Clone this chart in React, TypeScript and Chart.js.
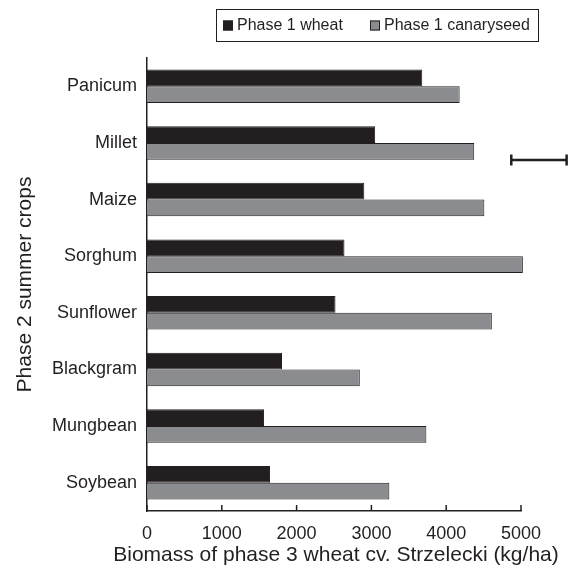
import { useEffect, useRef } from 'react';
import { Chart, registerables } from 'chart.js';

Chart.register(...registerables);

// Phase 2 summer crops (top to bottom)
const crops = ['Panicum', 'Millet', 'Maize', 'Sorghum', 'Sunflower', 'Blackgram', 'Mungbean', 'Soybean'];
// Biomass of phase 3 wheat (kg/ha) after each phase 1 crop
const afterWheat = [3680, 3050, 2905, 2640, 2520, 1805, 1565, 1645];
const afterCanaryseed = [4180, 4375, 4510, 5025, 4610, 2845, 3735, 3240];
const seriesNames = ['Phase 1 wheat', 'Phase 1 canaryseed'];
const xTickValues = [0, 1000, 2000, 3000, 4000, 5000];
const xTitle = 'Biomass of phase 3 wheat cv. Strzelecki (kg/ha)';
const yTitle = 'Phase 2 summer crops';
// Least significant difference bar (kg/ha)
const lsdStart = 4870;
const lsdValue = 740;

const INK = '#231f20';
const GREY = '#8b8c8f';
const FONT = "'Liberation Sans', Arial, Helvetica, sans-serif";

const inwardTicks = {
  id: 'inwardTicks',
  afterDraw(chart: any) {
    const { ctx, chartArea, scales } = chart;
    const x = scales.x;
    ctx.save();
    ctx.strokeStyle = INK;
    ctx.lineWidth = 1.5;
    x.ticks.forEach((t: any) => {
      const px = x.getPixelForValue(t.value);
      ctx.beginPath();
      ctx.moveTo(px, chartArea.bottom);
      ctx.lineTo(px, chartArea.bottom - 6);
      ctx.stroke();
    });
    ctx.restore();
  },
};

// Wide x-axis title, allowed to run past the plot edges
const wideXTitle = {
  id: 'wideXTitle',
  afterDraw(chart: any) {
    const { ctx, chartArea } = chart;
    ctx.save();
    ctx.font = `21px ${FONT}`;
    ctx.fillStyle = INK;
    ctx.textAlign = 'center';
    ctx.textBaseline = 'middle';
    ctx.fillText(xTitle, (chartArea.left + chartArea.right) / 2 + 2, 555);
    ctx.restore();
  },
};

const lsdBar = {
  id: 'lsdBar',
  afterDraw(chart: any) {
    const { ctx, scales } = chart;
    const x0 = scales.x.getPixelForValue(lsdStart);
    const x1 = scales.x.getPixelForValue(lsdStart + lsdValue);
    const y = scales.y.getPixelForValue(1.3);
    ctx.save();
    ctx.strokeStyle = INK;
    ctx.lineWidth = 2.5;
    ctx.beginPath();
    ctx.moveTo(x0, y);
    ctx.lineTo(x1, y);
    ctx.stroke();
    ctx.beginPath();
    ctx.moveTo(x0, y - 5.5);
    ctx.lineTo(x0, y + 5.5);
    ctx.moveTo(x1, y - 5.5);
    ctx.lineTo(x1, y + 5.5);
    ctx.stroke();
    ctx.restore();
  },
};

const boxedLegend = {
  id: 'boxedLegend',
  afterDraw(chart: any) {
    const { ctx } = chart;
    const ds = chart.data.datasets;
    const left = 216.5;
    const top = 9.5;
    const width = 322;
    const height = 32;
    const midY = top + height / 2;
    ctx.save();
    ctx.strokeStyle = INK;
    ctx.lineWidth = 1;
    ctx.strokeRect(left, top, width, height);
    ctx.font = `16px ${FONT}`;
    ctx.textBaseline = 'middle';
    ctx.fillStyle = INK;
    const itemX = [223, 370];
    ds.forEach((d: any, i: number) => {
      const mx = itemX[i];
      ctx.fillStyle = d.backgroundColor;
      ctx.fillRect(mx, midY - 5, 10, 10);
      ctx.strokeStyle = INK;
      ctx.lineWidth = 1;
      ctx.strokeRect(mx + 0.5, midY - 4.5, 9, 9);
      ctx.fillStyle = INK;
      ctx.fillText(d.label, mx + 14, midY + 0.5);
    });
    ctx.restore();
  },
};

export default function App() {
  const canvasRef = useRef<HTMLCanvasElement | null>(null);

  useEffect(() => {
    if (!canvasRef.current) return;
    const chart = new Chart(canvasRef.current, {
      type: 'bar',
      data: {
        labels: crops,
        datasets: [
          {
            label: seriesNames[0],
            data: afterWheat,
            backgroundColor: INK,
            borderColor: INK,
            borderWidth: 1,
            clip: false as any,
          },
          {
            label: seriesNames[1],
            data: afterCanaryseed,
            backgroundColor: GREY,
            borderColor: INK,
            borderWidth: 1,
            clip: false as any,
          },
        ],
      },
      options: {
        indexAxis: 'y',
        responsive: false,
        animation: false,
        events: [],
        datasets: {
          bar: { barPercentage: 1, categoryPercentage: 0.59 },
        },
        layout: { padding: { top: 58, right: 50, left: 0, bottom: 0 } },
        plugins: {
          legend: { display: false },
          tooltip: { enabled: false },
        },
        scales: {
          x: {
            type: 'linear',
            min: 0,
            max: 5000,
            afterBuildTicks: (s: any) => {
              s.ticks = xTickValues.map((v) => ({ value: v }));
            },
            afterFit: (s: any) => {
              s.height = 66;
            },
            ticks: {
              color: INK,
              font: { family: FONT, size: 18 },
              padding: 12,
              maxRotation: 0,
              callback: (v: any) => String(v),
            },
            grid: { display: false, drawTicks: false },
            border: { display: true, color: INK, width: 1.5 },
            title: { display: false },
          },
          y: {
            type: 'category',
            afterFit: (s: any) => {
              s.width = 147;
            },
            ticks: {
              color: INK,
              font: { family: FONT, size: 18 },
              padding: 10,
            },
            grid: { display: false, drawTicks: false },
            border: { display: true, color: INK, width: 1.5 },
            title: {
              display: true,
              text: yTitle,
              color: INK,
              font: { family: FONT, size: 21 },
              padding: { top: 13, bottom: 0 },
            },
          },
        },
      },
      plugins: [inwardTicks, lsdBar, boxedLegend, wideXTitle],
    } as any);
    return () => chart.destroy();
  }, []);

  return (
    <div style={{ position: 'absolute', left: 0, top: 0, width: 571, height: 577, background: '#fff' }}>
      <canvas ref={canvasRef} width={571} height={577} style={{ display: 'block' }} />
    </div>
  );
}
